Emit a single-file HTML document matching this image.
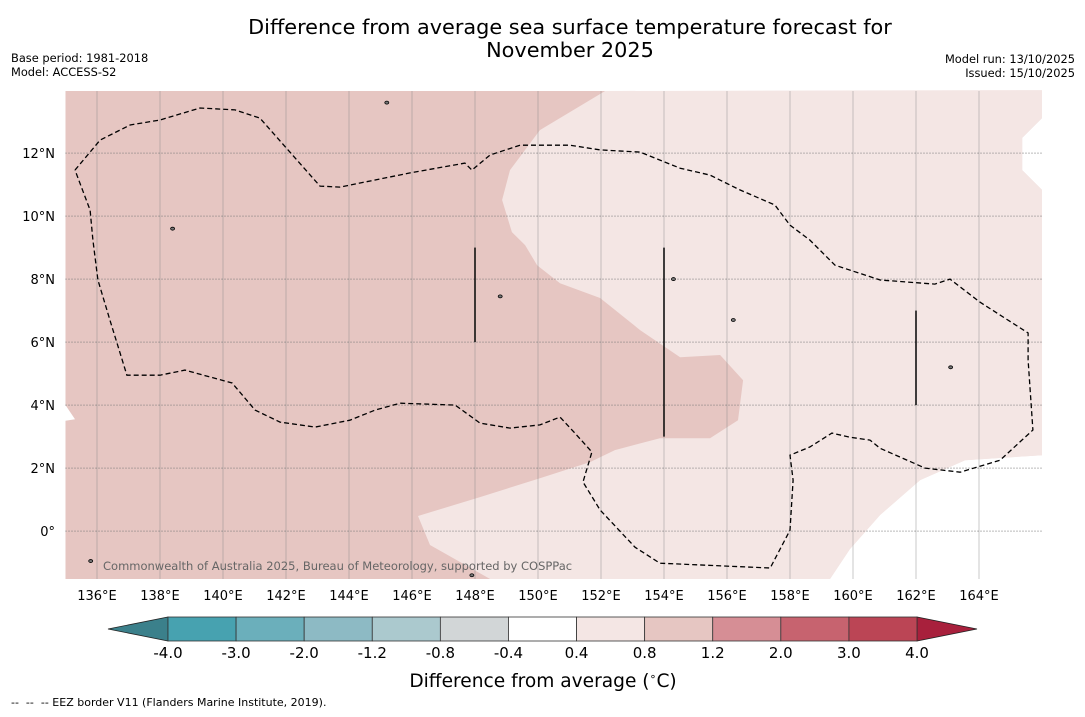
<!DOCTYPE html>
<html><head><meta charset="utf-8"><style>
body{margin:0;background:#fff;width:1085px;height:713px;overflow:hidden;font-family:"DejaVu Sans","Liberation Sans",sans-serif;}
svg text{font-family:"DejaVu Sans","Liberation Sans",sans-serif;white-space:pre;}
</style></head><body>
<svg id="c" width="1085" height="713" xmlns="http://www.w3.org/2000/svg">
<text x="570" y="34" font-size="20.8" text-anchor="middle">Difference from average sea surface temperature forecast for</text>
<text x="570" y="57" font-size="20.8" text-anchor="middle">November 2025</text>
<text x="11" y="62" font-size="11.4">Base period: 1981-2018</text>
<text x="11" y="76" font-size="11.4">Model: ACCESS-S2</text>
<text x="1075" y="63" font-size="11.4" text-anchor="end">Model run: 13/10/2025</text>
<text x="1075" y="77" font-size="11.4" text-anchor="end">Issued: 15/10/2025</text>
<g id="map"></g>
<g id="cbar"></g>
<text x="543" y="687" font-size="18.6" text-anchor="middle">Difference from average (<tspan font-size="11" dy="-7">∘</tspan><tspan dy="7">C)</tspan></text>
<text x="11" y="706" font-size="11">--  --  -- EEZ border V11 (Flanders Marine Institute, 2019).</text>
</svg>
<script>
const lonTicks=[136,138,140,142,144,146,148,150,152,154,156,158,160,162,164];
const latTicks=[0,2,4,6,8,10,12];
const lightRegion=[[152.13,13.97],[150.06,12.73],[149.11,11.46],[148.86,10.51],[149.17,9.49],[149.59,9.08],[149.97,8.44],[150.7,7.87],[151.97,7.4],[153.24,6.38],[154.51,5.52],[155.78,5.59],[156.51,4.79],[156.35,3.52],[155.46,2.95],[153.87,2.95],[152.44,2.57],[151.65,2.19],[150.06,1.68],[148.16,1.08],[146.19,0.48],[146.57,-0.44],[148.48,-1.52],[159.27,-1.52],[159.9,-0.57],[160.86,0.51],[162.13,1.62],[163.56,2.25],[166,2.41],[166,10.83],[165.37,11.46],[165.37,12.48],[166,13.11],[166,14]];
const whiteRegion=[[159.27,-1.52],[159.9,-0.57],[160.86,0.51],[162.13,1.62],[163.56,2.25],[166,2.41],[166,-1.52]];
const whiteTop=[[166,13.11],[165.37,12.48],[165.37,11.46],[166,10.83]];
const whiteLeft=[[135,4.0],[135.3,3.55],[135,3.5]];
const eez=[[135.3,11.46],[136.1,12.41],[137.05,12.89],[138,13.05],[139.27,13.43],[140.38,13.37],[141.17,13.11],[143.08,10.95],[143.71,10.92],[145.94,11.37],[147.68,11.68],[147.9,11.46],[148.48,11.94],[149.43,12.25],[151.02,12.25],[151.97,12.1],[153.24,12.03],[154.51,11.52],[155.46,11.3],[156.41,10.83],[157.52,10.35],[158,9.71],[158.63,9.24],[159.43,8.44],[160.86,7.97],[162.6,7.84],[163.08,8],[164.03,7.27],[165.56,6.29],[165.56,5.43],[165.71,3.21],[164.67,2.25],[163.4,1.87],[162.29,2],[160.86,2.63],[160.54,2.89],[159.9,2.98],[159.33,3.11],[158.63,2.67],[158,2.41],[158.1,1.62],[158,0.03],[157.37,-1.17],[153.87,-1.02],[153.08,-0.51],[151.97,0.67],[151.43,1.56],[151.71,2.51],[151.17,3.11],[150.7,3.62],[150.06,3.37],[149.11,3.27],[148.16,3.43],[147.37,4],[145.62,4.06],[144.83,3.84],[144.03,3.52],[142.92,3.3],[141.81,3.46],[141.02,3.84],[140.29,4.7],[138.79,5.11],[138,4.95],[136.95,4.95],[136.41,6.7],[136.03,7.97],[135.87,9.24],[135.78,10.19],[135.3,11.46]];
const segLon=[148,154,162];
const segLat0=[6,3,4];
const segLat1=[9,9,7];
const islandLon=[145.2,148.8,135.8,154.3,156.2,163.1,138.4,147.9];
const islandLat=[13.6,7.45,-0.95,8.0,6.7,5.2,9.6,-1.4];
const cbLevels=["-4.0","-3.0","-2.0","-1.2","-0.8","-0.4","0.4","0.8","1.2","2.0","3.0","4.0"];
const cbColors=["#47a2b0","#6bafbb","#8dbac4","#abc9ce","#d2d6d7","#ffffff","#f4e6e4","#e6c6c2","#d68e95","#c7636f","#bb4555"];
const cbLow="#3b808b", cbHigh="#a8203c";

const NS="http://www.w3.org/2000/svg";
const LON0=135,LON1=166,LAT0=-1.52,LAT1=13.97,X0=65.5,X1=1042,Y0=579,Y1=91;
const px=l=>X0+(l-LON0)/(LON1-LON0)*(X1-X0);
const py=l=>Y0-(l-LAT0)/(LAT1-LAT0)*(Y0-Y1);
function mk(tag,attrs,parent){const e=document.createElementNS(NS,tag);for(const k in attrs)e.setAttribute(k,attrs[k]);parent.appendChild(e);return e;}
const pts=a=>a.map(p=>px(p[0]).toFixed(1)+","+py(p[1]).toFixed(1)).join(" ");
const map=document.getElementById('map');
let e;
e=mk('rect',{x:X0,y:Y1,width:X1-X0,height:Y0-Y1,fill:'#e6c6c2'},map);


e=mk('polygon',{points:pts(lightRegion),fill:'#f4e6e4'},map);


[whiteRegion,whiteTop,whiteLeft].forEach(r=>{
 e=mk('polygon',{points:pts(r),fill:'#ffffff'},map);
 
 
});
lonTicks.forEach(l=>{
 e=mk('line',{x1:px(l),x2:px(l),y1:Y1,y2:Y0,stroke:'#8a8a8a','stroke-opacity':0.45,'stroke-width':1},map);
 
 
 e=mk('text',{x:px(l),y:600,'font-size':13,'text-anchor':'middle'},map);
 e.textContent=l+"°E";
 
 
});
latTicks.forEach(l=>{
 e=mk('line',{x1:X0,x2:X1,y1:py(l),y2:py(l),stroke:'#777','stroke-width':1,'stroke-dasharray':'1,2'},map);
 
 
 e=mk('text',{x:55,y:py(l)+5,'font-size':13,'text-anchor':'end'},map);
 e.textContent=l===0?"0°":l+"°N";
 
 
});
e=mk('polyline',{points:pts(eez),fill:'none',stroke:'#000','stroke-width':1.3,'stroke-dasharray':'5,3'},map);


segLon.forEach((l,i)=>{
 e=mk('line',{x1:px(l),x2:px(l),y1:py(segLat0[i]),y2:py(segLat1[i]),stroke:'#111','stroke-width':1.6},map);
 
 
});
islandLon.forEach((l,i)=>{
 e=mk('ellipse',{cx:px(l),cy:py(islandLat[i]),rx:2,ry:1.5,fill:'#777',stroke:'#000','stroke-width':0.8},map);
 
 
});
e=mk('text',{x:103,y:570,'font-size':11.5,fill:'#666'},map);
e.textContent="Commonwealth of Australia 2025, Bureau of Meteorology, supported by COSPPac";



const cb=document.getElementById('cbar');
const CX0=168,CX1=917,CY=617,CH=24,W=(CX1-CX0)/cbColors.length;
e=mk('polygon',{points:`${CX0},${CY} ${CX0},${CY+CH} 108,${CY+CH/2}`,fill:cbLow,stroke:'#222','stroke-width':0.8},cb);


e=mk('polygon',{points:`${CX1},${CY} ${CX1},${CY+CH} 977,${CY+CH/2}`,fill:cbHigh,stroke:'#222','stroke-width':0.8},cb);


cbColors.forEach((c,i)=>{
 e=mk('rect',{x:CX0+i*W,y:CY,width:W,height:CH,fill:c,stroke:'#333','stroke-width':0.8},cb);
 
 
});
cbLevels.forEach((t,i)=>{
 e=mk('text',{x:CX0+i*W,y:658,'font-size':15,'text-anchor':'middle'},cb);
 e.textContent=t;
 
 
});
</script>
</body></html>
